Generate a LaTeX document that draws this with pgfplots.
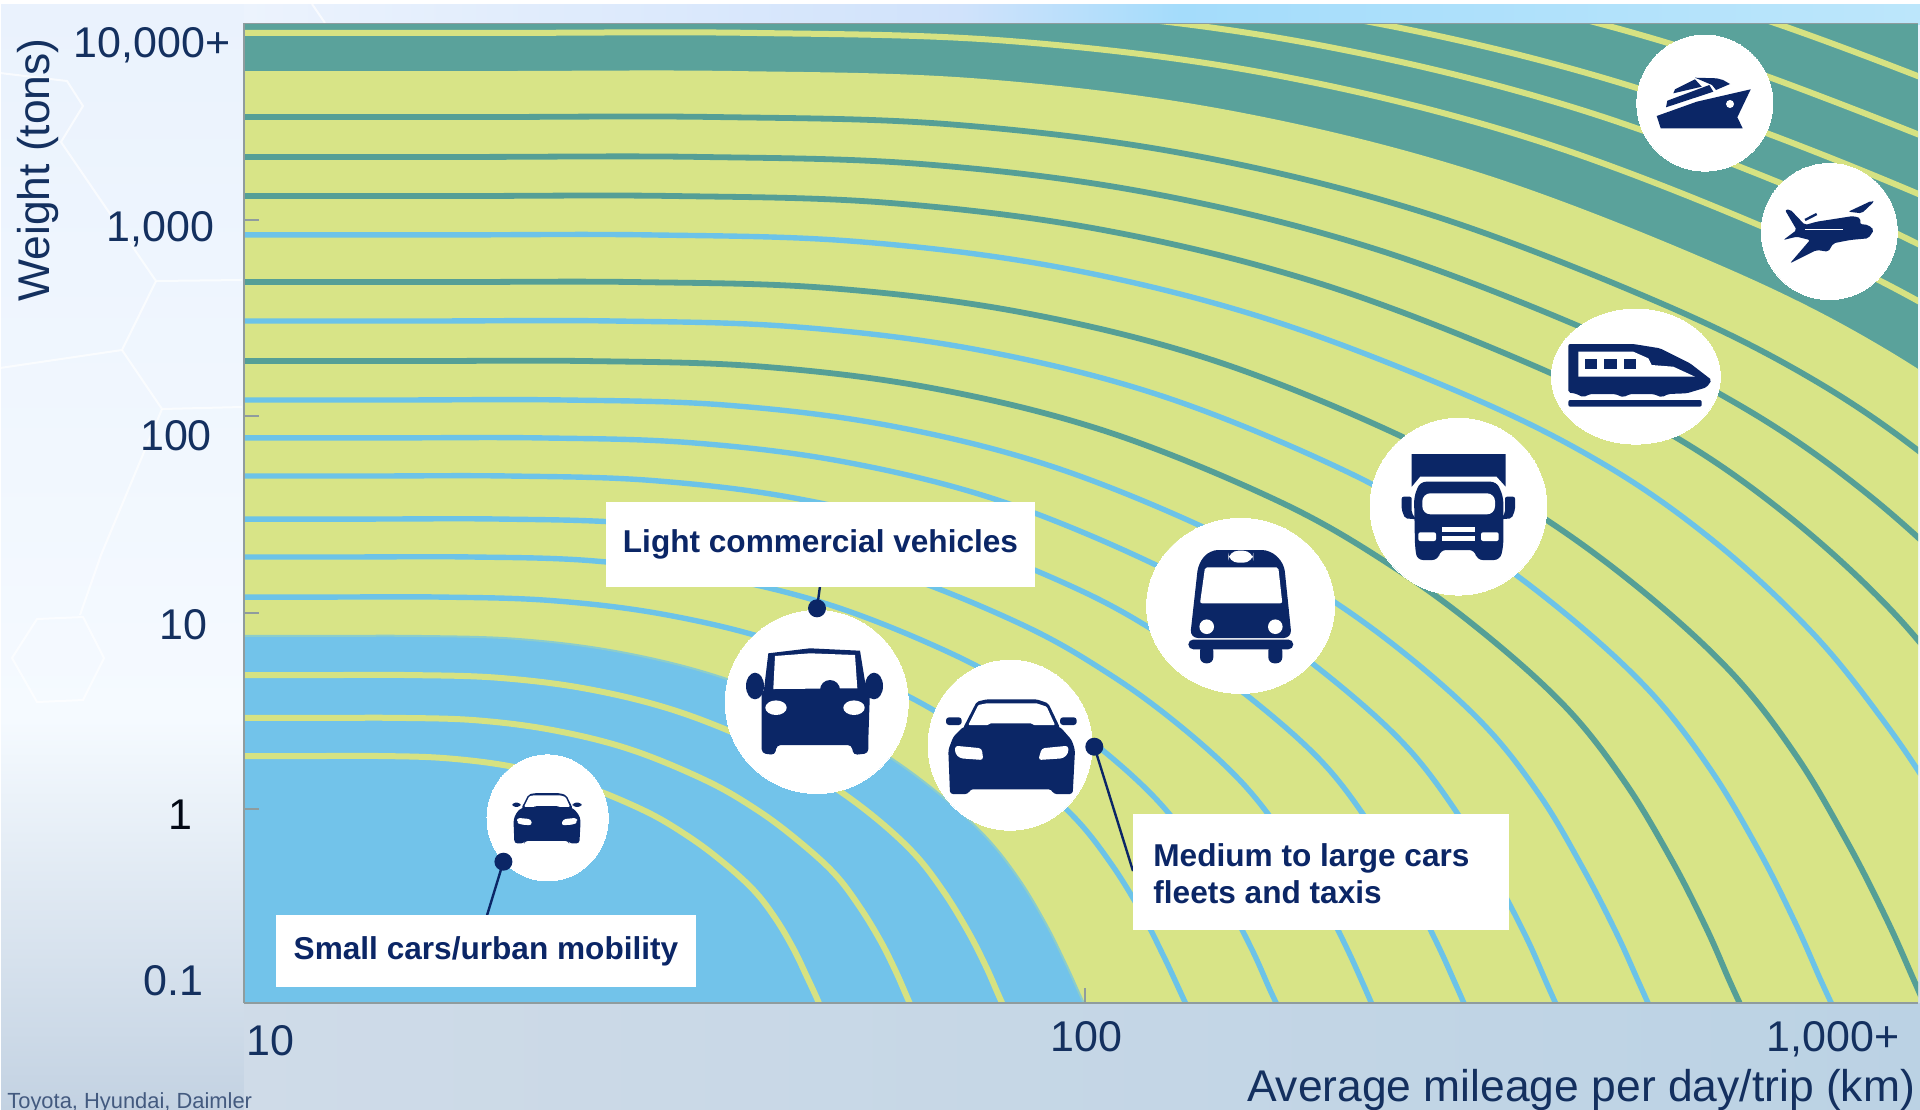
\documentclass[border=0pt]{standalone}
\usepackage{pgfplots}
\usepackage{pgfplotstable}
\usepackage{fontspec}
\pgfplotsset{compat=1.18}
\setmainfont{Liberation Sans}

\definecolor{navy}{HTML}{0B2666}
\definecolor{labelnavy}{HTML}{14305F}
\definecolor{bandteal}{HTML}{5AA29B}
\definecolor{bandlime}{HTML}{D8E487}
\definecolor{bandblue}{HTML}{72C3EA}
\definecolor{lineteal}{HTML}{559F96}
\definecolor{lineblue}{HTML}{6CC3E8}
\definecolor{lineyellow}{HTML}{D6E282}
\definecolor{framegrey}{HTML}{8F9C9E}
\definecolor{paleA}{HTML}{EAF2FD}
\definecolor{paleB}{HTML}{F5FAFF}
\definecolor{paleC}{HTML}{C3D2E2}
\definecolor{footL}{HTML}{CFDBE8}
\definecolor{footR}{HTML}{BBD2E4}
\definecolor{stripA}{HTML}{ECF3FD}
\definecolor{stripB}{HTML}{D0E2FB}
\definecolor{stripC}{HTML}{A4DCFB}
\definecolor{stripD}{HTML}{BCE6FB}

% Boundaries of the coloured zones: distance and weight as base-10 logarithms
\pgfplotstableread[row sep=\\]{
x y\\
1 0.883\\ 1.090 0.883\\ 1.209 0.883\\ 1.328 0.867\\ 1.446 0.803\\ 1.565 0.677\\ 1.684 0.472\\ 1.763 0.279\\ 1.826 0.081\\ 1.881 -0.134\\ 1.921 -0.350\\ 1.953 -0.577\\ 1.976 -0.774\\ 1.992 -0.924\\ 2.000 -1\\
}\blueedge
\pgfplotstableread[row sep=\\]{
x y\\
1 3.758\\ 1.290 3.758\\ 1.584 3.758\\ 1.878 3.718\\ 2.173 3.557\\ 2.467 3.244\\ 2.761 2.759\\ 2.957 2.331\\ 3.114 1.855\\ 3.252 1.308\\
}\tealedge

\pgfplotsset{
  contour/.style={smooth, tension=0.6, no marks, line cap=round},
  teal contour/.style={contour, color=lineteal, line width=2.9pt},
  blue contour/.style={contour, color=lineblue, line width=2.7pt},
  yellow contour/.style={contour, color=lineyellow, line width=3pt},
  disc/.style 2 args={white, only marks, mark=*, mark size=#1,
    mark options={draw=white, fill=white, line width=0pt, xscale=#2}},
}

\tikzset{
  tick text/.style={anchor=base, inner sep=0pt, text=labelnavy, font=\fontsize{21.5}{24}\selectfont},
  title text/.style={anchor=base, inner sep=0pt, text=labelnavy, font=\fontsize{22.2}{26}\selectfont},
  box text/.style={anchor=base, inner sep=0pt, text=navy, font=\fontsize{15.8}{18}\selectfont\bfseries},
}

% Front view of a saloon car, drawn around (1012.5, 746.5)
\newcommand{\carfront}{%
  \fill[navy, rounded corners=1pt] (963.3,727.7)--(976.7,701.7)--(986.7,699.3)--(1036.7,699.3)--(1048.3,703.3)--(1060,727.7)--cycle;
  \fill[white, rounded corners=0.5pt] (968.3,725)--(978.3,705)--(986.7,703.3)--(1036.7,703.3)--(1046.7,706.7)--(1055,725)--(1033.3,725)--(1031.7,723.3)--(990,723.3)--(988.3,725)--cycle;
  \fill[navy, rounded corners=1.5pt] (953.3,736.7)--(963.3,726.7)--(1060,726.7)--(1071.7,740)--(1075,750)--(1072.7,794)--(1053.3,794)--(1051.7,789.3)--(970,789.3)--(968.3,794)--(950,794)--(948.3,750)--cycle;
  \fill[navy, rounded corners=1.5pt] (946,717.3) rectangle (961.7,725);
  \fill[navy, rounded corners=1.5pt] (1060,717.3) rectangle (1076.7,725);
  \fill[white, rounded corners=1.5pt] (955,745.7)--(981.7,748.3)--(983.3,760)--(960,758.3)--(955,753.3)--cycle;
  \fill[white, rounded corners=1.5pt] (1068.3,745.7)--(1041.7,748.3)--(1038.3,760)--(1063.3,758.3)--(1068.3,753.3)--cycle;
}

\begin{document}
\begin{tikzpicture}[x=0.5pt, y=-0.5pt]
\useasboundingbox (0,0) rectangle (1920,1109);
\clip (0,0) rectangle (1920,1109);

% Slide background
\fill[white] (0,0) rectangle (1920,1109);
\shade[top color=paleA, bottom color=paleB] (1,4) rectangle (1920,720);
\shade[top color=paleB, bottom color=paleC] (1,720) rectangle (1920,1109);
\shade[left color=footL, right color=footR] (244,1003) rectangle (1920,1109);
\shade[left color=stripA, right color=stripB] (244,4) rectangle (960,24);
\shade[left color=stripB, right color=stripC] (960,4) rectangle (1180,24);
\shade[left color=stripC, right color=stripD] (1180,4) rectangle (1920,24);

% Faint honeycomb outline
\begin{scope}[white, line width=1pt, opacity=0.7]
  \draw (0,73)--(67,81)--(83,106)--(61,142)--(156,281)--(242,280);
  \draw (156,281)--(122,350)--(0,368);
  \draw (122,350)--(162,409)--(242,407);
  \draw (162,409)--(101,555)--(80,615);
  \draw (12,658)--(37,619)--(83,617)--(104,658)--(83,700)--(37,702)--cycle;
  \draw (312,4)--(325,23);
\end{scope}

\begin{axis}[
  at={(122pt,-501.5pt)}, anchor=south west,
  scale only axis, width=837pt, height=490pt,
  xmin=1, xmax=2.9905, ymin=-0.985, ymax=4.0025,
  axis background/.style={fill=bandteal},
  axis x line*=bottom, axis y line*=left,
  axis line style={draw=framegrey, line width=1pt, -},
  xtick={2}, ytick={0,1,2,3},
  xticklabels={}, yticklabels={},
  tick align=inside, major tick length=7.5pt,
  tick style={draw=framegrey, line width=1pt},
  axis on top,
]
% Zones
\addplot[smooth, tension=0.6, fill=bandlime, draw=none] table[x=x, y=y] {\tealedge} -- (axis cs:2.9905,-0.985) -- (axis cs:1,-0.985) -- cycle;
\addplot[smooth, tension=0.6, fill=bandblue, draw=none] table[x=x, y=y] {\blueedge} -- (axis cs:1,-1) -- cycle;
\addplot[contour, color=lineblue!70!bandlime, line width=1pt] table[x=x, y=y] {\blueedge};

% Contours inside the blue zone
\addplot[yellow contour] coordinates {(1,0.272)(1.084,0.272)(1.162,0.272)(1.240,0.261)(1.319,0.218)(1.397,0.133)(1.476,-0.006)(1.528,-0.136)(1.570,-0.270)(1.607,-0.415)(1.633,-0.561)(1.654,-0.714)(1.669,-0.848)(1.680,-0.949)(1.685,-1)};
\addplot[yellow contour] coordinates {(1,0.466)(1.094,0.466)(1.185,0.466)(1.276,0.454)(1.367,0.404)(1.459,0.306)(1.550,0.146)(1.611,-0.005)(1.659,-0.159)(1.702,-0.326)(1.732,-0.495)(1.757,-0.670)(1.775,-0.824)(1.787,-0.941)(1.793,-1)};
\addplot[yellow contour] coordinates {(1,0.684)(1.091,0.684)(1.197,0.684)(1.303,0.670)(1.409,0.613)(1.515,0.500)(1.621,0.316)(1.691,0.143)(1.748,-0.033)(1.797,-0.225)(1.832,-0.419)(1.861,-0.621)(1.882,-0.797)(1.896,-0.933)(1.903,-1)};

% Contours inside the lime zone
\addplot[blue contour] coordinates {(1,1.081)(1.100,1.081)(1.233,1.081)(1.366,1.063)(1.499,0.993)(1.633,0.854)(1.766,0.626)(1.855,0.413)(1.926,0.194)(1.988,-0.043)(2.032,-0.282)(2.068,-0.532)(2.094,-0.751)(2.112,-0.916)(2.121,-1)};
\addplot[blue contour] coordinates {(1,1.285)(1.125,1.285)(1.269,1.285)(1.413,1.266)(1.557,1.188)(1.701,1.035)(1.845,0.786)(1.941,0.552)(2.018,0.312)(2.085,0.051)(2.133,-0.212)(2.171,-0.486)(2.200,-0.726)(2.219,-0.909)(2.229,-1)};
\addplot[blue contour] coordinates {(1,1.478)(1.148,1.478)(1.304,1.478)(1.460,1.457)(1.615,1.373)(1.771,1.207)(1.927,0.937)(2.031,0.683)(2.114,0.422)(2.186,0.140)(2.238,-0.145)(2.280,-0.442)(2.311,-0.703)(2.332,-0.901)(2.342,-1)};
\addplot[blue contour] coordinates {(1,1.697)(1.146,1.697)(1.316,1.697)(1.486,1.674)(1.657,1.583)(1.827,1.402)(1.998,1.108)(2.111,0.831)(2.202,0.548)(2.282,0.241)(2.338,-0.070)(2.384,-0.393)(2.418,-0.676)(2.441,-0.893)(2.452,-1)};
\addplot[blue contour] coordinates {(1,1.891)(1.170,1.891)(1.351,1.891)(1.533,1.866)(1.714,1.769)(1.896,1.575)(2.077,1.259)(2.198,0.963)(2.295,0.659)(2.380,0.330)(2.440,-0.002)(2.488,-0.349)(2.525,-0.653)(2.549,-0.885)(2.561,-1)};
\addplot[blue contour] coordinates {(1,2.084)(1.185,2.084)(1.379,2.084)(1.573,2.058)(1.767,1.954)(1.960,1.747)(2.154,1.410)(2.283,1.094)(2.387,0.770)(2.477,0.419)(2.542,0.064)(2.593,-0.306)(2.632,-0.630)(2.658,-0.876)(2.671,-1)};
\addplot[teal contour] coordinates {(1,2.282)(1.203,2.282)(1.409,2.282)(1.615,2.254)(1.820,2.143)(2.026,1.923)(2.232,1.565)(2.369,1.228)(2.478,0.884)(2.574,0.510)(2.643,0.132)(2.698,-0.261)(2.739,-0.606)(2.766,-0.869)(2.780,-1)};
\addplot[blue contour] coordinates {(1,2.486)(1.220,2.486)(1.438,2.486)(1.656,2.456)(1.873,2.339)(2.091,2.105)(2.309,1.724)(2.454,1.367)(2.570,1.001)(2.671,0.604)(2.744,0.202)(2.802,-0.215)(2.845,-0.581)(2.874,-0.861)(2.889,-1)};
\addplot[teal contour] coordinates {(1,2.684)(1.237,2.684)(1.467,2.684)(1.697,2.653)(1.927,2.528)(2.156,2.281)(2.386,1.879)(2.539,1.501)(2.662,1.115)(2.769,0.695)(2.846,0.271)(2.907,-0.171)(2.953,-0.557)(2.984,-0.853)(2.999,-1)};
\addplot[blue contour] coordinates {(1,2.924)(1.239,2.924)(1.483,2.924)(1.727,2.891)(1.971,2.758)(2.214,2.500)(2.458,2.100)(2.621,1.747)(2.751,1.354)(2.864,0.903)(2.946,0.471)(3.011,0.059)(3.059,-0.333)};
\addplot[teal contour] coordinates {(1,3.122)(1.255,3.122)(1.511,3.122)(1.767,3.087)(2.023,2.948)(2.279,2.677)(2.535,2.256)(2.706,1.885)(2.842,1.473)(2.962,0.999)(3.047,0.546)(3.116,0.113)};
\addplot[teal contour] coordinates {(1,3.321)(1.272,3.321)(1.540,3.321)(1.808,3.284)(2.076,3.138)(2.344,2.854)(2.612,2.414)(2.791,2.025)(2.934,1.593)(3.059,1.096)(3.148,0.620)};
\addplot[teal contour] coordinates {(1,3.524)(1.280,3.524)(1.561,3.524)(1.842,3.486)(2.124,3.333)(2.405,3.035)(2.686,2.574)(2.874,2.167)(3.024,1.714)(3.155,1.194)};

% Contours inside the teal zone
\addplot[yellow contour] coordinates {(1,3.952)(1.298,3.952)(1.605,3.952)(1.913,3.910)(2.220,3.743)(2.528,3.417)(2.835,2.912)(3.040,2.466)(3.204,1.971)};
\addplot[yellow contour] coordinates {(1,4.115)(1.304,4.115)(1.625,4.115)(1.946,4.072)(2.267,3.899)(2.588,3.563)(2.909,3.041)(3.123,2.580)};
\addplot[yellow contour] coordinates {(1,4.247)(1.315,4.247)(1.649,4.247)(1.983,4.202)(2.317,4.025)(2.650,3.680)(2.984,3.145)(3.207,2.673)};
\addplot[yellow contour] coordinates {(1,4.466)(1.327,4.466)(1.673,4.466)(2.020,4.420)(2.366,4.235)(2.713,3.875)(3.059,3.318)};
\addplot[yellow contour] coordinates {(1,4.679)(1.338,4.679)(1.697,4.679)(2.056,4.631)(2.416,4.439)(2.775,4.066)(3.135,3.486)};

% Vehicle classes: mileage and weight of each disc
\addplot[disc={31.5pt}{0.962}] coordinates {(1.361,-0.043)};
\addplot[disc={45.75pt}{1}] coordinates {(1.681,0.547)};
\addplot[disc={42.5pt}{0.965}] coordinates {(1.911,0.327)};
\addplot[disc={43.75pt}{1.074}] coordinates {(2.185,1.036)};
\addplot[disc={44.2pt}{1}] coordinates {(2.444,1.541)};
\addplot[disc={33.75pt}{1.252}] coordinates {(2.655,2.203)};
\addplot[disc={34pt}{1}] coordinates {(2.737,3.595)};
\addplot[disc={34pt}{1}] coordinates {(2.885,2.941)};
\end{axis}

\draw[framegrey, line width=0.5pt] (244,23)--(1918,23);

% Axis text
\node[tick text] at (152,57) {10,000+};
\node[tick text] at (160.5,241) {1,000};
\node[tick text] at (176,450) {100};
\node[tick text] at (183.5,639) {10};
\node[tick text, text=black!80!navy] at (180,829) {1};
\node[tick text] at (173.5,995) {0.1};
\node[tick text] at (270.5,1055) {10};
\node[tick text] at (1086.5,1051) {100};
\node[tick text] at (1833,1051) {1,000+};
\node[title text] at (1581,1101) {Average mileage per day/trip (km)};
\node[title text, rotate=90] at (49,170) {Weight (tons)};
\node[anchor=base west, inner sep=0pt, text=labelnavy!80!white, font=\fontsize{10.95}{12}\selectfont] at (7,1108) {Toyota, Hyundai, Daimler};

% Ship
\fill[navy] (1656.7,116)--(1696.7,101.7)--(1750.7,89.3)--(1737.3,117.3)--(1742.7,128.3)--(1660.7,128.3)--cycle;
\fill[white] (1730,104) circle[x radius=4, y radius=4];
\fill[navy] (1666,107.3)--(1667.3,100.7)--(1709.3,85)--(1713.3,91.7)--cycle;
\fill[navy] (1673.3,93.3)--(1675,89.3)--(1695,79.3)--(1701.7,86.7)--cycle;
\fill[navy] (1695,77.7)--(1716.7,78.3)--(1723,80)--(1730,84)--(1716,90)--(1712,85)--cycle;

% Plane
\fill[navy, rounded corners=1pt] (1783.3,240)--(1796.7,230)--(1785,210)--(1790,209.3)--(1805,225)--(1816.7,221.7)--(1853.3,216)--(1860.7,218.3)--(1860,224)--(1868.3,225)--(1874,230)--(1868.3,238.3)--(1850,240)--(1833.3,243.3)--(1828.3,251.7)--(1816.7,250)--(1790,263.3)--(1810,240)--(1796.7,236.7)--cycle;
\fill[navy, rounded corners=1pt] (1848.3,211.7)--(1871.7,200.7)--(1874,201.7)--(1861.7,213.3)--cycle;
\draw[navy, line width=1.2pt] (1805,220)--(1816.7,214);
\draw[white, line width=0.8pt] (1805,229.3)--(1843.3,229.3);

% Train
\fill[navy, rounded corners=1pt] (1568.3,344)--(1633.3,344)--(1660,348.3)--(1690,363.3)--(1711.7,380)--(1706.7,387.3)--(1686.7,393.3)--(1668.3,394)--(1661.7,397.3)--(1653.3,394)--(1630,394)--(1623.3,397.3)--(1615,394)--(1590,394)--(1583.3,397.3)--(1575,393.3)--(1568.3,392.7)--cycle;
\fill[white] (1578.3,351.7)--(1633.3,351.7)--(1648.3,358.3)--(1651.7,365)--(1673.3,366.7)--(1695,376.7)--(1578.3,376.7)--cycle;
\fill[navy] (1585,359.3) rectangle (1597.3,369.3);
\fill[navy] (1604.3,359.3) rectangle (1616.7,369.3);
\fill[navy] (1624,359.3) rectangle (1636,369.3);
\fill[navy, rounded corners=1pt] (1568.3,400) rectangle (1701.7,406.7);

% Truck
\fill[navy] (1411.7,454)--(1505.7,454)--(1505.7,486.7)--(1496.7,476.7)--(1420,476.7)--(1411.7,486.7)--cycle;
\fill[navy, rounded corners=3pt] (1420,481.7)--(1496.7,481.7)--(1503.3,496.7)--(1503.3,546.7)--(1500,560)--(1476.7,560)--(1475,550)--(1440,550)--(1438.3,560)--(1417,560)--(1415,546.7)--(1414,496.7)--cycle;
\fill[white, rounded corners=4pt] (1422.3,493.3) rectangle (1495,514.3);
\fill[navy, rounded corners=1pt] (1401.7,496.7)--(1411.7,496.7)--(1411.7,513)--(1416,519.3)--(1405,518.3)--(1401.7,510)--cycle;
\fill[navy, rounded corners=1pt] (1515,496.7)--(1505,496.7)--(1505,513)--(1500.7,519.3)--(1511.7,518.3)--(1515,510)--cycle;
\fill[white, rounded corners=1pt] (1418.3,532.3) rectangle (1436,541);
\fill[white, rounded corners=1pt] (1481,532.3) rectangle (1498.7,541);
\fill[white] (1441.7,526.7) rectangle (1475,531.7);
\fill[white] (1441.7,536) rectangle (1475,541);

% Bus
\fill[navy, rounded corners=4pt] (1198.3,563.3)--(1210,550)--(1270,550)--(1284,563.3)--(1291.7,638)--(1190,638)--cycle;
\fill[white, rounded corners=5pt] (1228.3,550.7) rectangle (1253.3,562.7);
\fill[white, rounded corners=1pt] (1205,567.3)--(1278.3,567.3)--(1282.3,603.3)--(1200,603.3)--cycle;
\fill[white] (1206.7,626.7) circle[x radius=7.3, y radius=7.3];
\fill[white] (1275.3,626.7) circle[x radius=7.3, y radius=7.3];
\fill[navy, rounded corners=2.5pt] (1188.3,639.5) rectangle (1293.3,649.3);
\fill[navy, rounded corners=3pt] (1200,645) rectangle (1213.3,663.3);
\fill[navy, rounded corners=3pt] (1268.3,645) rectangle (1282.3,663.3);

% Compact van
\fill[navy] (755,686) circle[x radius=9, y radius=13.3];
\fill[navy] (874,686) circle[x radius=9, y radius=13.3];
\fill[navy] (768.3,653.3)--(810,648.3)--(860,650.7)--(866.7,692)--(763.3,695)--cycle;
\fill[white] (775,656)--(810,653.3)--(855,655)--(857.3,688.3)--(773.3,689)--cycle;
\fill[navy, rounded corners=2pt] (761.7,690)--(870,690)--(868.3,740)--(868.3,753.3)--(853.3,755)--(851.7,745)--(776.7,745)--(775,755)--(761.7,753.3)--cycle;
\fill[navy] (830,690) circle[x radius=10, y radius=10];
\fill[white] (776,707.7) circle[x radius=10.7, y radius=7.3];
\fill[white] (854,707.7) circle[x radius=10.7, y radius=7.3];

% Saloon and small car share one drawing
\carfront
\begin{scope}[shift={(547.5,818.2)}, scale=0.53, shift={(-1012.5,-746.5)}]
  \carfront
\end{scope}

% Callouts
\draw[navy, line width=1.2pt] (503.4,861.7)--(486.8,916);
\fill[navy] (503.4,861.7) circle[x radius=9, y radius=9];
\fill[white] (275.6,915) rectangle (696,987);
\node[box text] at (486,959) {Small cars/urban mobility};

\draw[navy, line width=1.2pt] (820,586)--(817,608.3);
\fill[navy] (817,608.3) circle[x radius=9, y radius=9];
\fill[white] (606,502) rectangle (1035,587);
\node[box text] at (820.5,552) {Light commercial vehicles};

\draw[navy, line width=1.2pt] (1094.3,746.7)--(1133,871);
\fill[navy] (1094.3,746.7) circle[x radius=9, y radius=9];
\fill[white] (1133,814) rectangle (1509,930);
\node[box text, anchor=base west] at (1153,866) {Medium to large cars};
\node[box text, anchor=base west] at (1153,903) {fleets and taxis};
\end{tikzpicture}
\end{document}
